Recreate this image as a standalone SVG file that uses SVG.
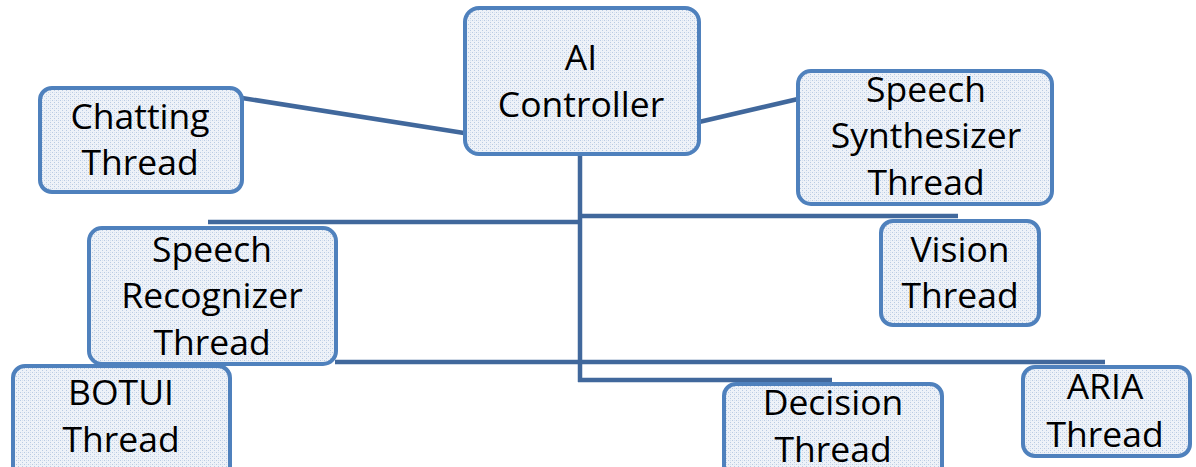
<svg xmlns="http://www.w3.org/2000/svg" width="1196" height="467" viewBox="0 0 1196 467">
<defs>
<pattern id="dots" width="4" height="4" patternUnits="userSpaceOnUse">
<rect width="4" height="4" fill="#eef2f8"/>
<rect x="0" y="0" width="1" height="1" fill="#b9cbe3"/>
<rect x="2" y="2" width="1" height="1" fill="#b9cbe3"/>
<rect x="2" y="0" width="1" height="1" fill="#d7e1ef"/>
</pattern>
</defs>
<style>
.box{fill:url(#dots);stroke:#4f81bd;stroke-width:4}
.lbl{font-family:"Open Sans","Liberation Sans",sans-serif;font-size:35.5px;fill:#000;text-anchor:middle}
.conn{stroke:#41689c;stroke-width:4.5;fill:none;stroke-linecap:butt}
</style>
<g id="connectors">
<line class="conn" x1="242" y1="98" x2="464" y2="133"/>
<line class="conn" x1="699" y1="122" x2="798" y2="99"/>
<line class="conn" x1="580" y1="154" x2="580" y2="382"/>
<line class="conn" x1="580" y1="216" x2="958" y2="216"/>
<line class="conn" x1="208" y1="222" x2="582" y2="222"/>
<line class="conn" x1="335" y1="362" x2="1105" y2="362"/>
<line class="conn" x1="578" y1="380" x2="832" y2="380"/>
</g>
<g id="ai-controller">
<rect class="box" x="465" y="8" width="234" height="146" rx="14"/>
<text class="lbl" x="581" y="70">AI</text>
<text class="lbl" x="581" y="117">Controller</text>
</g>
<g id="chatting-thread">
<rect class="box" x="40" y="88" width="202" height="104" rx="12"/>
<text class="lbl" x="140" y="129">Chatting</text>
<text class="lbl" x="140" y="175">Thread</text>
</g>
<g id="speech-synthesizer-thread">
<rect class="box" x="798" y="71" width="254" height="133" rx="13"/>
<text class="lbl" x="926" y="102">Speech</text>
<text class="lbl" x="926" y="148">Synthesizer</text>
<text class="lbl" x="926" y="195">Thread</text>
</g>
<g id="speech-recognizer-thread">
<rect class="box" x="89" y="228" width="247" height="136" rx="13"/>
<text class="lbl" x="212" y="262">Speech</text>
<text class="lbl" x="212" y="308">Recognizer</text>
<text class="lbl" x="212" y="355">Thread</text>
</g>
<g id="vision-thread">
<rect class="box" x="881" y="221" width="158" height="104" rx="12"/>
<text class="lbl" x="960" y="262">Vision</text>
<text class="lbl" x="960" y="308">Thread</text>
</g>
<g id="botui-thread">
<rect class="box" x="13" y="366" width="217" height="120" rx="12"/>
<text class="lbl" x="121" y="405">BOTUI</text>
<text class="lbl" x="121" y="452">Thread</text>
</g>
<g id="decision-thread">
<rect class="box" x="724" y="384" width="218" height="100" rx="12"/>
<text class="lbl" x="833" y="415">Decision</text>
<text class="lbl" x="833" y="462">Thread</text>
</g>
<g id="aria-thread">
<rect class="box" x="1023" y="367" width="167" height="89" rx="12"/>
<text class="lbl" x="1105" y="399">ARIA</text>
<text class="lbl" x="1105" y="447">Thread</text>
</g>
</svg>
